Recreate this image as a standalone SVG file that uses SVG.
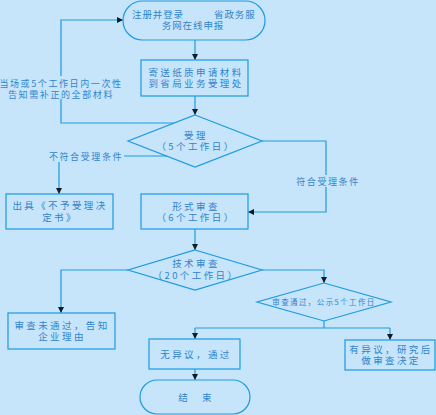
<svg xmlns="http://www.w3.org/2000/svg" width="436" height="415" viewBox="0 0 436 415">
<defs>
<style>
.bg{fill:#c6e4fa}
.n{fill:none;stroke:#1c9be2;stroke-width:1.2}
.c{fill:none;stroke:#1c9be2;stroke-width:1.2}
text{font-family:"Noto Sans CJK SC","Noto Sans",sans-serif;fill:#3184cc;text-anchor:middle}
.t{font-size:9.5px;letter-spacing:2.4px}
.tt{font-size:9.5px;letter-spacing:0.9px}
.l{font-size:9px;letter-spacing:1.6px}
.s{font-size:7.5px;letter-spacing:1.4px}
</style>
<marker id="ah" viewBox="0 0 10 10" refX="10" refY="5" markerWidth="6" markerHeight="6" markerUnits="userSpaceOnUse" orient="auto">
<path d="M0,0L10,5L0,10z" fill="#111a2a"/>
</marker>
</defs>
<rect class="bg" x="0" y="0" width="436" height="415"/>

<g id="connectors">
<path class="c" d="M195,40V60" marker-end="url(#ah)"/>
<path class="c" d="M195,96V115" marker-end="url(#ah)"/>
<path class="c" d="M174,123H61V20H123" marker-end="url(#ah)"/>
<path class="c" d="M167,156H59V194" marker-end="url(#ah)"/>
<path class="c" d="M262,141H326V212H248" marker-end="url(#ah)"/>
<path class="c" d="M195,229V250" marker-end="url(#ah)"/>
<path class="c" d="M128,270H61V313" marker-end="url(#ah)"/>
<path class="c" d="M262,270H324V283" marker-end="url(#ah)"/>
<path class="c" d="M324,321V328"/>
<path class="c" d="M195,328H390"/>
<path class="c" d="M195,328V339" marker-end="url(#ah)"/>
<path class="c" d="M390,328V340" marker-end="url(#ah)"/>
<path class="c" d="M195,369V380" marker-end="url(#ah)"/>
<rect class="bg" x="0" y="76" width="123" height="23"/>
<text class="l" x="61" y="87">当场或5个工作日内一次性</text>
<text class="l" x="61" y="98">告知需补正的全部材料</text>
<rect class="bg" x="48" y="150" width="76" height="12"/>
<text class="l" x="86" y="159.5">不符合受理条件</text>
<rect class="bg" x="295" y="175" width="66" height="12"/>
<text class="l" x="328" y="184.5">符合受理条件</text>
</g>

<g id="start">
<rect class="n" x="123" y="1" width="142" height="39" rx="19.5"/>
<text class="tt" style="text-anchor:start" x="132" y="18">注册并登录<tspan x="214">省政务服</tspan></text>
<text class="tt" x="193" y="29">务网在线申报</text>
</g>

<g id="mail">
<rect class="n" x="141" y="60" width="107" height="36"/>
<text class="t" x="196" y="76">寄送纸质申请材料</text>
<text class="t" x="196" y="87">到省局业务受理处</text>
</g>

<g id="accept">
<path class="n" d="M195,115L262,141L195,167L128,141Z"/>
<text class="t" x="196" y="139">受理</text>
<text class="t" x="196" y="150">（5个工作日）</text>
</g>

<g id="reject">
<rect class="n" x="6" y="194" width="107" height="35"/>
<text class="t" x="60" y="209">出具《不予受理决</text>
<text class="t" x="60" y="221">定书》</text>
</g>

<g id="formal">
<rect class="n" x="141" y="194" width="107" height="35"/>
<text class="t" x="196" y="209.5">形式审查</text>
<text class="t" x="196" y="221">（6个工作日）</text>
</g>

<g id="tech">
<path class="n" d="M195,250L262,270L195,290L128,270Z"/>
<text class="t" x="196" y="267">技术审查</text>
<text class="t" x="196" y="278.5">（20个工作日）</text>
</g>

<g id="fail">
<rect class="n" x="8" y="313" width="107" height="36"/>
<text class="t" x="62" y="328.5">审查未通过，告知</text>
<text class="t" x="62" y="340">企业理由</text>
</g>

<g id="publicize">
<path class="n" d="M324,283L391,302L324,321L257,302Z"/>
<text class="s" x="324" y="304.5">审查通过，公示5个工作日</text>
</g>

<g id="pass">
<rect class="n" x="149" y="339" width="91" height="30"/>
<text class="t" x="196" y="357.5">无异议，通过</text>
</g>

<g id="objection">
<rect class="n" x="345" y="340" width="90" height="30"/>
<text class="t" x="391" y="352.5">有异议，研究后</text>
<text class="t" x="391" y="364">做审查决定</text>
</g>

<g id="end">
<rect class="n" x="140" y="380" width="110" height="34" rx="17"/>
<text class="t" x="196" y="400.5">结　束</text>
</g>
</svg>
